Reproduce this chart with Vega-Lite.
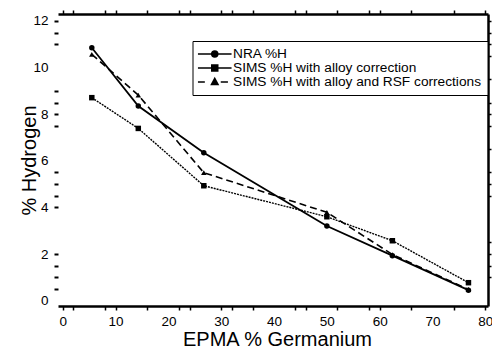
{
  "$schema": "https://vega.github.io/schema/vega-lite/v6.json",
  "width": 430,
  "height": 292,
  "autosize": "none",
  "padding": {"left": 58, "top": 14, "right": 4, "bottom": 42},
  "background": "white",
  "config": {
    "view": {"stroke": null},
    "font": "Liberation Sans",
    "axis": {"grid": false, "domainColor": "black", "tickColor": "black", "labelColor": "black", "titleColor": "black", "labelFont": "Liberation Sans", "titleFont": "Liberation Sans", "titleFontWeight": "normal"}
  },
  "data": {
    "values": [
      {"series": "NRA %H", "x": 5.5, "y": 10.85},
      {"series": "NRA %H", "x": 14.3, "y": 8.35},
      {"series": "NRA %H", "x": 26.7, "y": 6.35},
      {"series": "NRA %H", "x": 50.0, "y": 3.2},
      {"series": "NRA %H", "x": 62.4, "y": 1.93},
      {"series": "NRA %H", "x": 76.8, "y": 0.45},
      {"series": "SIMS %H with alloy correction", "x": 5.5, "y": 8.71},
      {"series": "SIMS %H with alloy correction", "x": 14.3, "y": 7.39},
      {"series": "SIMS %H with alloy correction", "x": 26.7, "y": 4.93},
      {"series": "SIMS %H with alloy correction", "x": 50.0, "y": 3.6},
      {"series": "SIMS %H with alloy correction", "x": 62.4, "y": 2.57},
      {"series": "SIMS %H with alloy correction", "x": 76.8, "y": 0.77},
      {"series": "SIMS %H with alloy and RSF corrections", "x": 5.5, "y": 10.57},
      {"series": "SIMS %H with alloy and RSF corrections", "x": 14.3, "y": 8.82},
      {"series": "SIMS %H with alloy and RSF corrections", "x": 26.7, "y": 5.49},
      {"series": "SIMS %H with alloy and RSF corrections", "x": 50.0, "y": 3.79},
      {"series": "SIMS %H with alloy and RSF corrections", "x": 62.4, "y": 1.98},
      {"series": "SIMS %H with alloy and RSF corrections", "x": 76.8, "y": 0.48}
    ]
  },
  "resolve": {"scale": {"shape": "independent"}, "axis": {"x": "independent", "y": "independent"}},
  "layer": [
    {
      "transform": [{"filter": "datum.series == 'NRA %H'"}],
      "mark": {"type": "line", "color": "black", "strokeWidth": 1.8},
      "encoding": {
        "x": {"field": "x", "type": "quantitative", "scale": {"domain": [-0.9, 80.5], "nice": false, "zero": false},
          "axis": {"orient": "bottom", "values": [0,2,8,10,16,20,22,24,30,32,36,40,44,46,50,52,58,60,66,70,74,80],
            "format": ".0f", "labelExpr": "datum.value % 10 == 0 ? datum.label : ''", "labelOverlap": false, "labelFlush": false,
            "labelFontSize": 13.5, "labelPadding": 4, "domainWidth": 2.5, "tickWidth": 1.5, "tickSize": 4,
            "tickOpacity": {"condition": {"test": "indexof([20,40,50,70], datum.value) >= 0", "value": 0}, "value": 1},
            "title": "EPMA % Germanium", "titleFontSize": 20, "titleX": 219, "titleY": 39, "titleBaseline": "alphabetic"}},
        "y": {"field": "y", "type": "quantitative", "scale": {"domain": [-0.23, 12.3], "nice": false, "zero": false},
          "axis": {"orient": "left", "values": [0,0.5,1,1.5,2,4,4.5,5,5.5,6,7.5,8,8.5,9,10,11,11.5,12],
            "format": ".0f", "labelExpr": "datum.value % 2 == 0 ? datum.label : ''", "labelOverlap": false, "labelFlush": false,
            "labelFontSize": 13.5, "labelPadding": 6, "domain": false, "tickWidth": 2, "tickSize": 4,
            "tickOpacity": {"condition": {"test": "datum.value == 0 || datum.value == 6 || datum.value == 10", "value": 0}, "value": 1},
            "title": "% Hydrogen", "titleFontSize": 20, "titleX": -23, "titleY": 146, "titleBaseline": "alphabetic", "titleAngle": 270}}
      }
    },
    {
      "transform": [{"filter": "datum.series == 'SIMS %H with alloy correction'"}],
      "mark": {"type": "line", "color": "black", "strokeWidth": 1.4, "strokeDash": [2, 1]},
      "encoding": {
        "x": {"field": "x", "type": "quantitative", "scale": {"domain": [-0.9, 80.5], "nice": false, "zero": false}, "axis": null},
        "y": {"field": "y", "type": "quantitative", "scale": {"domain": [-0.23, 12.3], "nice": false, "zero": false}, "axis": null}
      }
    },
    {
      "transform": [{"filter": "datum.series == 'SIMS %H with alloy and RSF corrections'"}],
      "mark": {"type": "line", "color": "black", "strokeWidth": 1.6, "strokeDash": [7, 4]},
      "encoding": {
        "x": {"field": "x", "type": "quantitative", "scale": {"domain": [-0.9, 80.5], "nice": false, "zero": false}, "axis": null},
        "y": {"field": "y", "type": "quantitative", "scale": {"domain": [-0.23, 12.3], "nice": false, "zero": false}, "axis": null}
      }
    },
    {
      "mark": {"type": "point", "filled": true, "color": "black", "opacity": 1, "size": 30},
      "encoding": {
        "x": {"field": "x", "type": "quantitative", "scale": {"domain": [-0.9, 80.5], "nice": false, "zero": false}, "axis": null},
        "y": {"field": "y", "type": "quantitative", "scale": {"domain": [-0.23, 12.3], "nice": false, "zero": false}, "axis": null},
        "shape": {"field": "series", "type": "nominal",
          "scale": {"domain": ["NRA %H", "SIMS %H with alloy correction", "SIMS %H with alloy and RSF corrections"], "range": ["circle", "square", "triangle-up"]},
          "legend": null}
      }
    },
    {
      "transform": [{"filter": "datum.x > 1000"}],
      "mark": {"type": "point", "filled": false, "color": "black", "strokeWidth": 1.5, "opacity": 1},
      "encoding": {
        "x": {"field": "x", "type": "quantitative", "scale": {"domain": [-0.9, 80.5], "nice": false, "zero": false},
          "axis": {"orient": "top", "values": [0,2,8,10,16,20,22,24,30,32,36,40,44,46,50,52,58,60,66,70,74,80],
            "labels": false, "domainWidth": 2.5, "tickWidth": 1.5, "tickSize": 4, "title": null,
            "tickOpacity": {"condition": {"test": "indexof([20,40,50,70], datum.value) >= 0", "value": 0}, "value": 1}}},
        "y": {"field": "y", "type": "quantitative", "scale": {"domain": [-0.23, 12.3], "nice": false, "zero": false},
          "axis": {"orient": "right", "values": [1,1.5,2,2.5,4.5,5,5.5,6.5,7.5,8,8.5,9.5,10.5,11,11.5,12],
            "labels": false, "domainWidth": 2.5, "tickWidth": 1.5, "tickSize": 3, "title": null}},
        "shape": {"field": "series", "type": "nominal",
          "scale": {"domain": ["NRA %H", "SIMS %H with alloy correction", "SIMS %H with alloy and RSF corrections"],
            "range": [
              "M-2.8,0H2.8M0.5,0A0.5,0.5,0,1,1,-0.5,0A0.5,0.5,0,1,1,0.5,0M0.3,0A0.3,0.3,0,1,1,-0.3,0A0.3,0.3,0,1,1,0.3,0M0.1,0A0.1,0.1,0,1,1,-0.1,0A0.1,0.1,0,1,1,0.1,0",
              "M-2.8,0H2.8M-0.5,-0.5H0.5V0.5H-0.5ZM-0.3,-0.3H0.3V0.3H-0.3ZM-0.1,-0.1H0.1V0.1H-0.1Z",
              "M-2.8,0H-1.65M1.0,0H2.2M0,-0.6L0.55,0.42H-0.55ZM0,-0.294L0.3025,0.267H-0.3025ZM0,-0.022L0.0825,0.131H-0.0825Z"
            ]},
          "legend": {"orient": "none", "legendX": 134.5, "legendY": 27, "title": null,
            "strokeColor": "black", "fillColor": "white", "padding": 6,
            "symbolSize": 144, "symbolOffset": 9.25, "symbolStrokeWidth": 1.5, "symbolFillColor": "black", "symbolStrokeColor": "black",
            "labelFont": "Liberation Sans", "labelFontSize": 13.7, "labelColor": "black", "labelLimit": 0, "labelOffset": 11.25, "rowPadding": -1}}
      }
    }
  ]
}
